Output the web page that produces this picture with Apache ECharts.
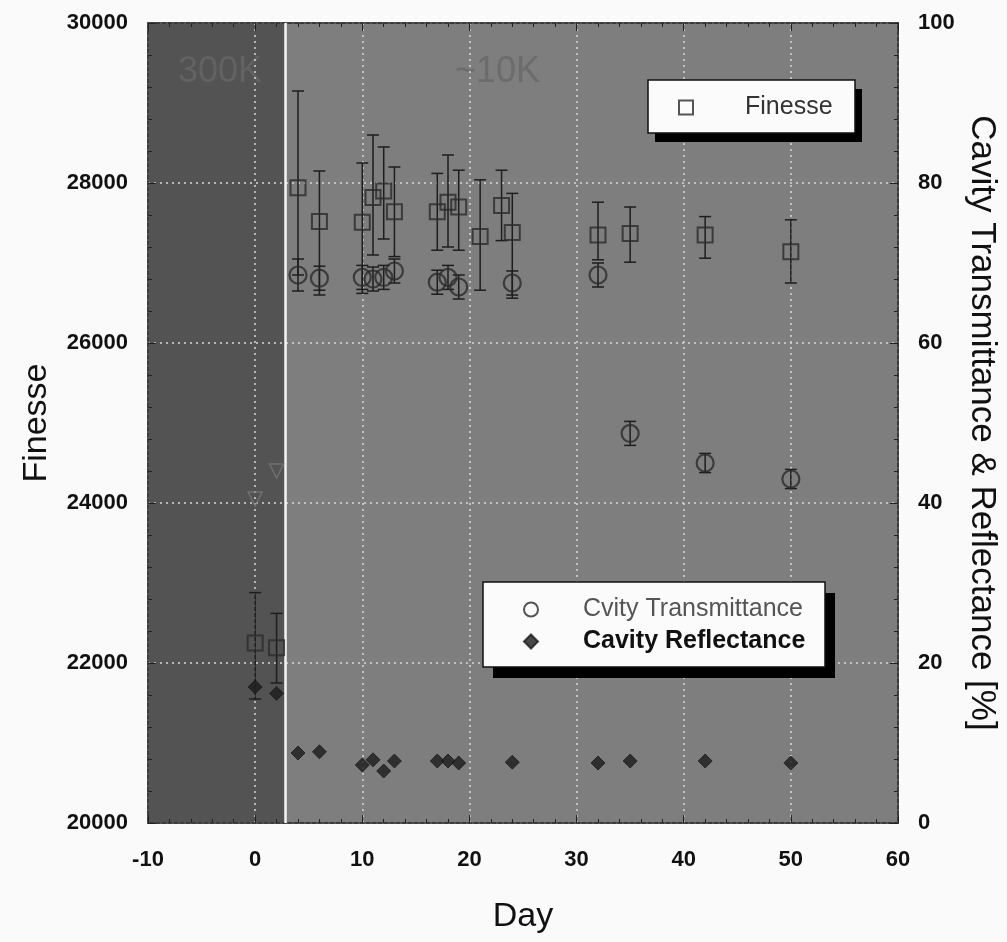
<!DOCTYPE html>
<html>
<head>
<meta charset="utf-8">
<script src="https://cdn.jsdelivr.net/npm/echarts@6/dist/echarts.min.js"></script>
<style>
  html, body { margin: 0; padding: 0; background: #fafafa; }
  #chart { width: 1007px; height: 942px; }
</style>
</head>
<body>
<div id="chart"></div>
<script>
// finesse (left axis) with error bars
var finDays  = [0, 2, 4, 6, 10, 11, 12, 13, 17, 18, 19, 21, 23, 24, 32, 35, 42, 50];
var finesse  = [22250, 22190, 27940, 27520, 27510, 27820, 27900, 27640, 27640, 27760, 27700, 27330, 27720, 27380, 27350, 27370, 27350, 27140];
var finLow   = [21550, 21750, 26850, 26600, 26620, 27100, 27300, 27080, 27160, 27200, 27160, 26660, 27280, 26560, 27040, 27010, 27060, 26750];
var finHigh  = [22880, 22620, 29150, 28150, 28250, 28600, 28450, 28200, 28120, 28350, 28160, 28040, 28160, 27870, 27760, 27700, 27580, 27540];

// transmittance / reflectance (right axis, %)
var transDays = [4, 6, 10, 11, 12, 13, 17, 18, 19, 24, 32, 35, 42, 50];
var transVals = [68.5, 68.1, 68.2, 68.0, 68.2, 69.0, 67.6, 68.2, 67.0, 67.5, 68.5, 48.7, 45.0, 43.0];
var transErr  = [2.0, 1.5, 1.5, 1.5, 1.5, 1.5, 1.5, 1.5, 1.5, 1.5, 1.5, 1.5, 1.2, 1.2];
var warmDays  = [0, 2];
var warmVals  = [40.5, 44.0];
var reflDays  = [0, 2, 4, 6, 10, 11, 12, 13, 17, 18, 19, 24, 32, 35, 42, 50];
var reflVals  = [17.0, 16.2, 8.75, 8.9, 7.25, 7.9, 6.5, 7.75, 7.75, 7.75, 7.5, 7.6, 7.5, 7.75, 7.75, 7.5];

var warmEnd = 2.8;   // end of the 300K period
var xTicks = { min: -10, max: 60, interval: 10 };

function errBar(params, api) {
  var x = api.value(0);
  var p1 = api.coord([x, api.value(1)]);
  var p2 = api.coord([x, api.value(2)]);
  var w = 6;
  var st = { stroke: '#1e1e1e', lineWidth: 1.5 };
  return {
    type: 'group',
    children: [
      { type: 'line', shape: { x1: p1[0], y1: p1[1], x2: p2[0], y2: p2[1] }, style: st },
      { type: 'line', shape: { x1: p1[0] - w, y1: p1[1], x2: p1[0] + w, y2: p1[1] }, style: st },
      { type: 'line', shape: { x1: p2[0] - w, y1: p2[1], x2: p2[0] + w, y2: p2[1] }, style: st }
    ]
  };
}

var chart = echarts.init(document.getElementById('chart'));

var font = 'Liberation Sans, Arial';
var tickLabel = { color: '#111', fontSize: 22, fontWeight: 'bold', fontFamily: font,
                  formatter: function (v) { return String(v); } };
var dotted = { show: true, lineStyle: { color: '#d8d8d8', type: [2, 4], width: 1.5 } };
var tickStyle = { show: true, inside: true, length: 8, lineStyle: { color: '#222' } };
var minorStyle = { show: true, splitNumber: 5, length: 4, lineStyle: { color: '#222' } };
var lineStyle = { show: true, onZero: false, lineStyle: { color: '#333', width: 1.5 } };

// legend frames with hard drop shadows
function legendBox(x, y, w, h, dx, dy) {
  return [
    { type: 'rect', z: 9, silent: true, shape: { x: x + dx, y: y + dy, width: w, height: h },
      style: { fill: '#000' } },
    { type: 'rect', z: 10, silent: true, shape: { x: x, y: y, width: w, height: h },
      style: { fill: '#fbfbfb', stroke: '#111', lineWidth: 1.5 } }
  ];
}

var option = {
  backgroundColor: '#fafafa',
  animation: false,
  grid: { left: 148, right: 109, top: 23, bottom: 119, show: true, outerBoundsMode: 'none',
          backgroundColor: '#7e7e7e', borderColor: '#333', borderWidth: 1.5 },
  graphic: [
    { type: 'text', left: 178, top: 54, silent: true, z: 2,
      style: { text: '300K', fontSize: 36, fontFamily: font, fill: '#626262' } },
    { type: 'text', left: 455, top: 54, silent: true, z: 2,
      style: { text: '~10K', fontSize: 36, fontFamily: font, fill: '#6c6c6c' } }
  ].concat(legendBox(648, 80, 207, 53, 7, 9), legendBox(483, 582, 342, 85, 10, 11)),
  legend: [
    {
      data: ['Finesse'],
      left: 678, top: 95, z: 20,
      padding: 0,
      itemWidth: 14, itemHeight: 14,
      textStyle: { fontSize: 25, color: '#333', fontFamily: font, padding: [0, 0, 0, 47] }
    },
    {
      orient: 'vertical',
      left: 523, top: 597, z: 20,
      padding: 0,
      itemGap: 7,
      itemWidth: 14, itemHeight: 14,
      data: [
        { name: 'Cvity Transmittance', textStyle: { color: '#555', fontWeight: 'normal' } },
        { name: 'Cavity Reflectance', textStyle: { color: '#111', fontWeight: 'bold' } }
      ],
      textStyle: { fontSize: 25, fontFamily: font, padding: [0, 0, 0, 40] }
    }
  ],
  xAxis: [
    {
      type: 'value', position: 'bottom', z: 3,
      min: xTicks.min, max: xTicks.max, interval: xTicks.interval,
      name: 'Day', nameLocation: 'middle', nameGap: 77,
      nameTextStyle: { fontSize: 34, color: '#111', fontFamily: font },
      axisLine: lineStyle, axisTick: tickStyle, minorTick: minorStyle,
      axisLabel: Object.assign({ margin: 26 }, tickLabel),
      splitLine: dotted
    },
    {
      type: 'value', position: 'top', z: 3,
      min: xTicks.min, max: xTicks.max, interval: xTicks.interval,
      axisLine: lineStyle, axisTick: tickStyle, minorTick: minorStyle,
      axisLabel: { show: false },
      splitLine: { show: false }
    }
  ],
  yAxis: [
    {
      type: 'value', position: 'left', z: 3,
      min: 20000, max: 30000, interval: 2000,
      name: 'Finesse', nameLocation: 'middle', nameGap: 94, nameRotate: 90,
      nameTextStyle: { fontSize: 34, color: '#111', fontFamily: font },
      axisLine: lineStyle, axisTick: tickStyle, minorTick: minorStyle,
      axisLabel: Object.assign({ margin: 20 }, tickLabel),
      splitLine: dotted
    },
    {
      type: 'value', position: 'right', z: 3,
      min: 0, max: 100, interval: 20,
      name: 'Cavity Transmittance & Reflectance [%]', nameLocation: 'middle', nameGap: 66, nameRotate: -90,
      nameMoveOverlap: false,
      nameTextStyle: { fontSize: 35, color: '#111', fontFamily: font },
      axisLine: lineStyle, axisTick: tickStyle, minorTick: minorStyle,
      axisLabel: Object.assign({ margin: 20 }, tickLabel),
      splitLine: { show: false }
    }
  ],
  series: [
    {
      name: 'region', type: 'scatter', data: [], silent: true, z: 1,
      markArea: { silent: true, itemStyle: { color: '#535353' },
        data: [[{ xAxis: xTicks.min }, { xAxis: warmEnd }]] },
      markLine: { silent: true, symbol: 'none', label: { show: false },
        lineStyle: { color: '#f4f4f4', type: 'solid', width: 2.5 },
        data: [{ xAxis: warmEnd }] }
    },
    {
      name: 'finErr', type: 'custom', renderItem: errBar, silent: true,
      xAxisIndex: 0, yAxisIndex: 0,
      data: finDays.map(function (d, i) { return [d, finLow[i], finHigh[i]]; }),
      z: 4
    },
    {
      name: 'transErr', type: 'custom', renderItem: errBar, silent: true,
      xAxisIndex: 0, yAxisIndex: 1,
      data: transDays.map(function (d, i) { return [d, transVals[i] - transErr[i], transVals[i] + transErr[i]]; }),
      z: 4
    },
    {
      name: 'Finesse', type: 'scatter', xAxisIndex: 0, yAxisIndex: 0,
      symbol: 'rect', symbolSize: 15,
      itemStyle: { color: 'rgba(0,0,0,0)', borderColor: '#2a2a2a', borderWidth: 2 },
      data: finDays.map(function (d, i) { return [d, finesse[i]]; }),
      z: 5
    },
    {
      name: 'Cvity Transmittance', type: 'scatter', xAxisIndex: 0, yAxisIndex: 1,
      symbol: 'circle', symbolSize: 17,
      itemStyle: { color: 'rgba(0,0,0,0)', borderColor: '#2a2a2a', borderWidth: 2.2 },
      data: transDays.map(function (d, i) { return [d, transVals[i]]; }),
      z: 5
    },
    {
      name: 'warm', type: 'scatter', xAxisIndex: 0, yAxisIndex: 1, silent: true,
      symbol: 'triangle', symbolSize: 14, symbolRotate: 180,
      itemStyle: { color: 'rgba(0,0,0,0)', borderColor: '#777', borderWidth: 1.5 },
      data: warmDays.map(function (d, i) { return [d, warmVals[i]]; }),
      z: 5
    },
    {
      name: 'Cavity Reflectance', type: 'scatter', xAxisIndex: 0, yAxisIndex: 1,
      symbol: 'diamond', symbolSize: 14,
      itemStyle: { color: '#1c1c1c', borderColor: '#1c1c1c', borderWidth: 1 },
      data: reflDays.map(function (d, i) { return [d, reflVals[i]]; }),
      z: 5
    }
  ]
};

chart.setOption(option);
</script>
</body>
</html>
